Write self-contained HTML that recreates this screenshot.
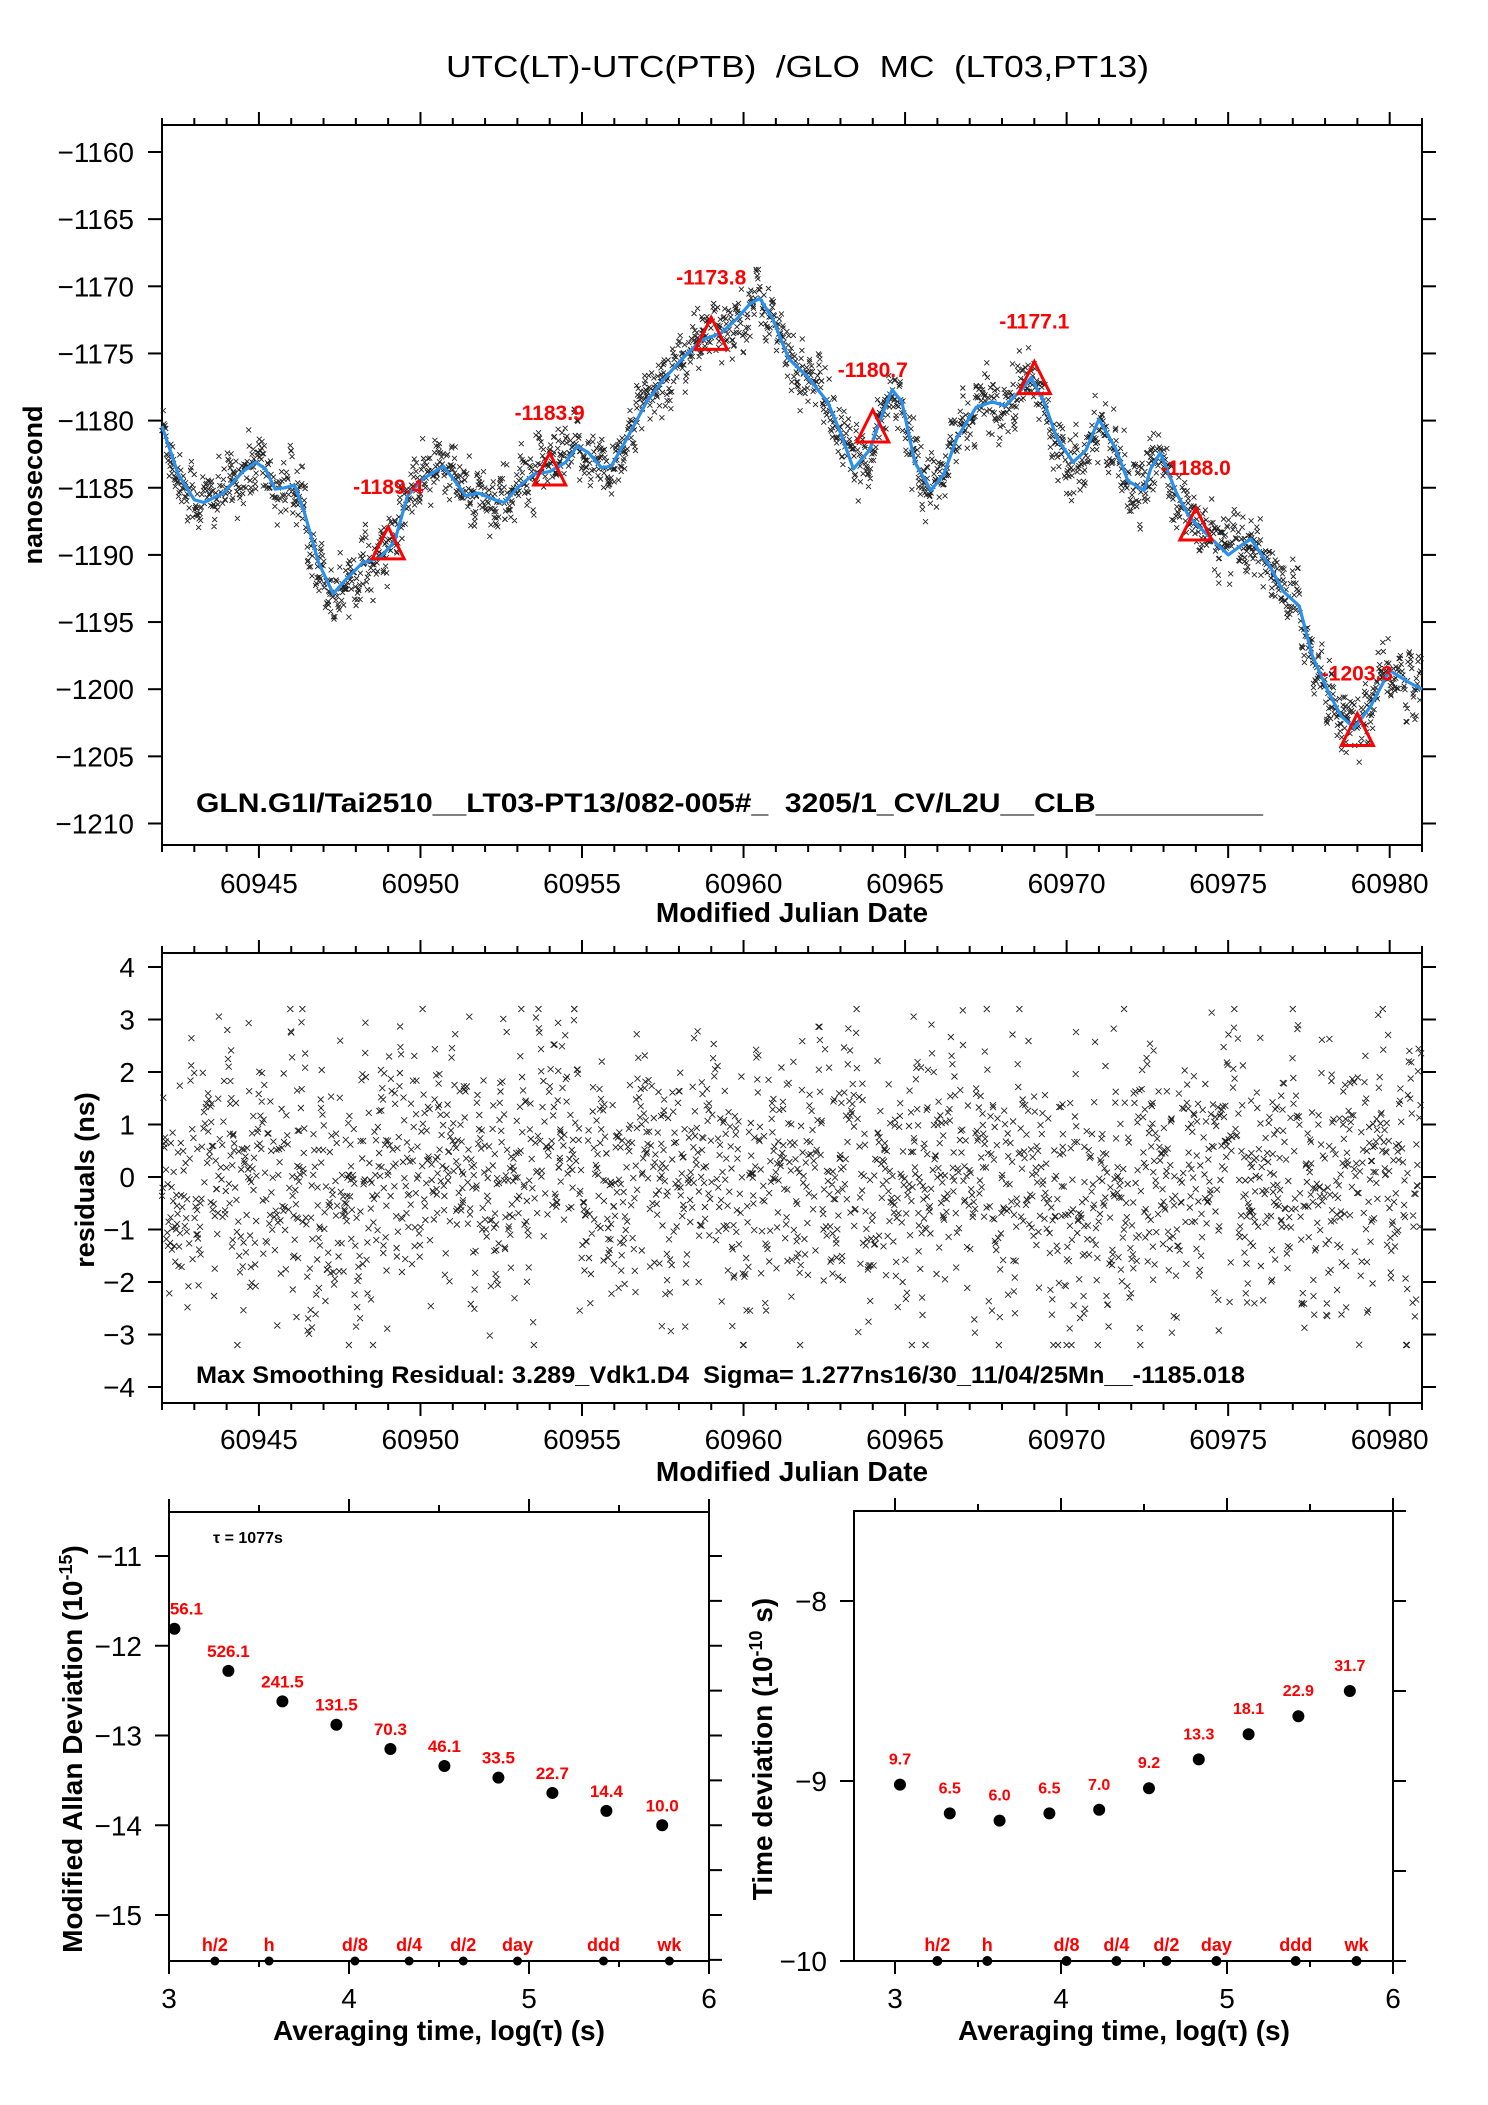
<!DOCTYPE html>
<html><head><meta charset="utf-8">
<style>
html,body{margin:0;padding:0;background:#fff;}
svg{display:block;font-family:"Liberation Sans",sans-serif;}
text{white-space:pre;}
.t{font-size:28px;fill:#000;}
.b{font-weight:bold;}
.r{fill:#ff0000;font-weight:bold;}
</style></head>
<body>
<svg id="chart" width="1488" height="2105" viewBox="0 0 1488 2105" xmlns="http://www.w3.org/2000/svg" xml:space="preserve">
<rect width="1488" height="2105" fill="#fff"/>
<text x="446" y="77" class="t" style="font-size:31px" textLength="703" lengthAdjust="spacingAndGlyphs">UTC(LT)-UTC(PTB)  /GLO  MC  (LT03,PT13)</text>
<text transform="translate(42,485) rotate(-90)" text-anchor="middle" class="t b" style="font-size:27px">nanosecond</text>
<text x="792" y="922" text-anchor="middle" class="t b" style="font-size:28px">Modified Julian Date</text>
<text x="196" y="812" class="t b" style="font-size:27px" textLength="1067" lengthAdjust="spacingAndGlyphs">GLN.G1I/Tai2510__LT03-PT13/082-005#_  3205/1_CV/L2U__CLB__________</text>
<text transform="translate(94,1180) rotate(-90)" text-anchor="middle" class="t b" style="font-size:27px">residuals (ns)</text>
<text x="792" y="1481" text-anchor="middle" class="t b" style="font-size:28px">Modified Julian Date</text>
<text x="196" y="1383" class="t b" style="font-size:24px" textLength="1049" lengthAdjust="spacingAndGlyphs">Max Smoothing Residual: 3.289_Vdk1.D4  Sigma= 1.277ns16/30_11/04/25Mn__-1185.018</text>
<text x="439" y="2040" text-anchor="middle" class="t b" style="font-size:28px">Averaging time, log(τ) (s)</text>
<text x="1124" y="2040" text-anchor="middle" class="t b" style="font-size:28px">Averaging time, log(τ) (s)</text>
<text transform="translate(82,1749) rotate(-90)" text-anchor="middle" class="t b" style="font-size:28px">Modified Allan Deviation (10<tspan dy="-10" style="font-size:18px">-15</tspan><tspan dy="10">)</tspan></text>
<text transform="translate(772,1749) rotate(-90)" text-anchor="middle" class="t b" style="font-size:28px">Time deviation (10<tspan dy="-10" style="font-size:18px">-10</tspan><tspan dy="10"> s)</tspan></text>
<text x="213" y="1543" class="t b" style="font-size:16px">τ = 1077s</text>
</svg>
<script>
// ---------- data ----------
const curveMJD = [60942.0,60942.5,60943.0,60943.3,60943.9,60944.5,60944.9,60945.2,60945.5,60945.8,60946.1,60946.4,60946.85,60947.3,60947.7,60948.2,60948.75,60949.2,60949.6,60950.1,60950.7,60951.0,60951.4,60951.8,60952.3,60952.6,60953.0,60953.5,60954.0,60954.5,60954.85,60955.2,60955.6,60955.9,60956.4,60957.0,60957.5,60958.1,60958.7,60959.3,60959.8,60960.2,60960.5,60960.9,60961.4,60962.0,60962.6,60963.0,60963.4,60963.9,60964.3,60964.6,60964.9,60965.3,60965.8,60966.2,60966.6,60967.2,60967.7,60968.1,60968.6,60968.9,60969.3,60969.7,60970.2,60970.6,60971.0,60971.5,60971.9,60972.4,60972.6,60972.9,60973.4,60973.8,60974.4,60975.0,60975.4,60975.7,60976.3,60976.7,60977.2,60977.6,60978.1,60978.5,60978.9,60979.4,60980.0,60980.6,60981.0];
const curveNs = [-1180.4,-1184,-1185.9,-1186.1,-1185.4,-1183.8,-1183.1,-1183.6,-1185.1,-1185,-1184.8,-1186.8,-1190.6,-1192.9,-1191.8,-1190.6,-1190.2,-1189,-1185.6,-1184.3,-1183.4,-1184.3,-1185.6,-1185.4,-1185.9,-1186.1,-1185,-1184,-1183.8,-1183.1,-1181.9,-1182.4,-1183.5,-1183.4,-1181.3,-1178.6,-1177,-1175.4,-1174,-1173.5,-1172.4,-1171.3,-1170.9,-1172.4,-1175.4,-1176.8,-1178.6,-1180.9,-1183.6,-1182.2,-1179.5,-1177.7,-1178.6,-1183.1,-1185.2,-1184,-1181.3,-1179,-1178.6,-1178.9,-1177.7,-1176.8,-1178.6,-1181.3,-1183.1,-1182.2,-1179.9,-1182,-1184.5,-1185.2,-1183.6,-1182.4,-1185.4,-1187.2,-1188.6,-1190,-1189.3,-1188.8,-1190.9,-1192.7,-1193.8,-1197.5,-1200.2,-1202,-1202.9,-1201.3,-1198.6,-1199.5,-1200];
const triMJD = [60949,60954,60959,60964,60969,60974,60979];
const triNs = [-1189.4,-1183.9,-1173.8,-1180.7,-1177.1,-1188.0,-1203.3];
const triLabels = ["-1189.4","-1183.9","-1173.8","-1180.7","-1177.1","-1188.0","-1203.3"];
const topYTicks = [-1160,-1165,-1170,-1175,-1180,-1185,-1190,-1195,-1200,-1205,-1210];
const mjdTicks = [60945,60950,60955,60960,60965,60970,60975,60980];
const resYTicks = [4,3,2,1,0,-1,-2,-3,-4];
const logTau = [3.03,3.33,3.63,3.93,4.23,4.53,4.83,5.13,5.43,5.74];
const madev = [-11.81,-12.28,-12.62,-12.88,-13.15,-13.34,-13.47,-13.64,-13.84,-14.0];
const madevLabels = ["56.1","526.1","241.5","131.5","70.3","46.1","33.5","22.7","14.4","10.0"];
const tdev = [-9.02,-9.18,-9.22,-9.18,-9.16,-9.04,-8.88,-8.74,-8.64,-8.50];
const tdevLabels = ["9.7","6.5","6.0","6.5","7.0","9.2","13.3","18.1","22.9","31.7"];
const markTau = [3.255,3.556,4.033,4.334,4.635,4.936,5.414,5.78];
const markLabels = ["h/2","h","d/8","d/4","d/2","day","ddd","wk"];
const allanYTicks = [-11,-12,-13,-14,-15];
const tdevYTicks = [-8,-9,-10];
const logTicks = [3,4,5,6];

// ---------- axes ----------
const X = v => 162 + (v - 60942) * (1260 / 39);
const Y = v => 152 + (-1160 - v) * 13.43;
const YR = v => 1177 - v * 52.5;
const XL = v => 169 + (v - 3) * 180;
const YL = v => 1556 + (-11 - v) * 89.75;
const XT = v => 895 + (v - 3) * 166;
const YT = v => 1601 + (-8 - v) * 180;

const svg = document.getElementById('chart');
const NS = 'http://www.w3.org/2000/svg';
function mk(tag, name, attrs, txt) {
  const e = document.createElementNS(NS, tag);
  
  
  for (const k in attrs) e.setAttribute(k, attrs[k]);
  if (txt !== undefined) e.textContent = txt;
  svg.appendChild(e);
  return e;
}
function line(name, x1, y1, x2, y2, w) {
  return mk('line', name, {x1, y1, x2, y2, stroke: '#000', 'stroke-width': w || 2});
}
function frame(name, l, t, r, b) {
  mk('rect', name, {x: l, y: t, width: r - l, height: b - t, fill: 'none', stroke: '#000', 'stroke-width': 2});
}
function label(name, x, y, s, anchor, size, cls) {
  return mk('text', name, {x, y, 'text-anchor': anchor, class: cls || 't', style: 'font-size:' + size + 'px'}, s);
}
const minus = s => String(s).replace('-', '\u2212');

// ---------- pseudo-random scatter texture (residual noise) ----------
let seed = 12345;
function rnd() { seed = (seed * 1103515245 + 12345) & 0x7fffffff; return seed / 0x7fffffff; }
function gauss() { return Math.sqrt(-2 * Math.log(rnd() + 1e-9)) * Math.cos(2 * Math.PI * rnd()); }
function curveAt(m) {
  for (let i = 0; i < curveMJD.length - 1; i++) {
    if (m <= curveMJD[i + 1]) {
      const f = (m - curveMJD[i]) / (curveMJD[i + 1] - curveMJD[i]);
      return curveNs[i] + f * (curveNs[i + 1] - curveNs[i]);
    }
  }
  return curveNs[curveNs.length - 1];
}
const scatterMJD = [], scatterRes = [];
{
  let m = 60942.0, r = 0;
  while (m < 60981) {
    r = 0.45 * r + 0.9 * gauss() * 1.28;
    if (r > 3.2) r = 3.2; if (r < -3.2) r = -3.2;
    scatterMJD.push(m); scatterRes.push(r);
    m += 0.0165 * (0.3 + 1.4 * rnd());
  }
}

// ---------- top plot ----------
frame('top-plot-frame', 162, 125, 1422, 845);
for (let d = 60942; d <= 60981; d++) {
  const maj = d % 5 === 0, x = X(d);
  line('top-x-tick-top', x, 125, x, maj ? 112 : 118);
  line('top-x-tick-bottom', x, 845, x, maj ? 858 : 852);
}
mjdTicks.forEach(v => label('top-x-tick-label', X(v), 893, String(v), 'middle', 28));
topYTicks.forEach(v => {
  line('top-y-tick-left', 148, Y(v), 162, Y(v));
  line('top-y-tick-right', 1422, Y(v), 1436, Y(v));
  label('top-y-tick-label', 134, Y(v) + 10, minus(v), 'end', 28);
});
{
  let d = '';
  for (let i = 0; i < scatterMJD.length; i++) {
    const x = X(scatterMJD[i]), y = Y(curveAt(scatterMJD[i]) + scatterRes[i] * 0.95);
    if (y < 126 || y > 844) continue;
    d += 'M' + (x - 2.5).toFixed(1) + ' ' + (y - 2.5).toFixed(1) + 'l5 5m0 -5l-5 5';
  }
  mk('path', 'top-measurement-points', {d, stroke: '#222', 'stroke-width': 0.9, fill: 'none'});
}
mk('polyline', 'smoothed-curve', {points: curveMJD.map((m, i) => X(m).toFixed(1) + ',' + Y(curveNs[i]).toFixed(1)).join(' '), fill: 'none', stroke: '#2a90ea', 'stroke-width': 3.2, 'stroke-linejoin': 'round'});
triMJD.forEach((m, i) => {
  const x = X(m), y = Y(triNs[i]);
  mk('polygon', 'sample-triangle', {points: `${x},${y - 20} ${x - 16},${y + 12} ${x + 16},${y + 12}`, fill: 'none', stroke: '#ff0000', 'stroke-width': 3});
  label('sample-value-label', x, y - 53, triLabels[i], 'middle', 21, 'r');
});

// ---------- residual plot ----------
frame('residual-plot-frame', 162, 953, 1422, 1403);
for (let d = 60942; d <= 60981; d++) {
  const maj = d % 5 === 0, x = X(d);
  line('residual-x-tick-top', x, 953, x, maj ? 940 : 946);
  line('residual-x-tick-bottom', x, 1403, x, maj ? 1416 : 1410);
}
mjdTicks.forEach(v => label('residual-x-tick-label', X(v), 1449, String(v), 'middle', 28));
resYTicks.forEach(v => {
  line('residual-y-tick-left', 148, YR(v), 162, YR(v));
  line('residual-y-tick-right', 1422, YR(v), 1436, YR(v));
  label('residual-y-tick-label', 135, YR(v) + 10, minus(v), 'end', 28);
});
{
  let d = '';
  for (let i = 0; i < scatterMJD.length; i++) {
    const x = X(scatterMJD[i]), y = YR(scatterRes[i]);
    d += 'M' + (x - 3).toFixed(1) + ' ' + (y - 3).toFixed(1) + 'l6 6m0 -6l-6 6';
  }
  mk('path', 'residual-points', {d, stroke: '#222', 'stroke-width': 0.9, fill: 'none'});
}

// ---------- Allan deviation plot ----------
frame('allan-plot-frame', 169, 1512, 709, 1961);
for (let t = 3; t <= 6.001; t += 0.5) {
  const maj = Math.abs(t - Math.round(t)) < 1e-6, x = XL(t);
  line('allan-x-tick-top', x, 1512, x, maj ? 1499 : 1505);
  line('allan-x-tick-bottom', x, 1961, x, maj ? 1974 : 1967);
}
logTicks.forEach(v => label('allan-x-tick-label', XL(v), 2008, String(v), 'middle', 28));
allanYTicks.forEach(v => {
  line('allan-y-tick-left', 155, YL(v), 169, YL(v));
  label('allan-y-tick-label', 142, YL(v) + 10, minus(v), 'end', 28);
});
for (let v = -11; v >= -15.5; v -= 0.5) line('allan-y-tick-right', 709, YL(v), 722, YL(v));
logTau.forEach((t, i) => {
  mk('circle', 'allan-point', {cx: XL(t), cy: YL(madev[i]), r: 6, fill: '#000'});
  label('allan-point-label', XL(t) + (i === 0 ? 12 : 0), YL(madev[i]) - 14, madevLabels[i], 'middle', 17, 'r');
});
markTau.forEach((t, i) => {
  mk('circle', 'allan-interval-marker', {cx: XL(t), cy: 1961, r: 4.5, fill: '#000'});
  label('allan-interval-label', XL(t), 1951, markLabels[i], 'middle', 18, 'r');
});

// ---------- Time deviation plot ----------
frame('tdev-plot-frame', 854, 1511, 1393, 1961);
for (let t = 3; t <= 6.001; t += 0.5) {
  const maj = Math.abs(t - Math.round(t)) < 1e-6, x = XT(t);
  line('tdev-x-tick-top', x, 1511, x, maj ? 1498 : 1504);
  line('tdev-x-tick-bottom', x, 1961, x, maj ? 1974 : 1967);
}
logTicks.forEach(v => label('tdev-x-tick-label', XT(v), 2008, String(v), 'middle', 28));
tdevYTicks.forEach(v => {
  line('tdev-y-tick-left', 840, YT(v), 854, YT(v));
  label('tdev-y-tick-label', 827, YT(v) + 10, minus(v), 'end', 28);
});
for (let v = -7.5; v >= -10; v -= 0.5) line('tdev-y-tick-right', 1393, YT(v), 1406, YT(v));
logTau.forEach((t, i) => {
  mk('circle', 'tdev-point', {cx: XT(t), cy: YT(tdev[i]), r: 6, fill: '#000'});
  label('tdev-point-label', XT(t), YT(tdev[i]) - 20, tdevLabels[i], 'middle', 16, 'r');
});
markTau.forEach((t, i) => {
  mk('circle', 'tdev-interval-marker', {cx: XT(t), cy: 1961, r: 5, fill: '#000'});
  label('tdev-interval-label', XT(t), 1951, markLabels[i], 'middle', 18, 'r');
});
</script>
</body></html>
